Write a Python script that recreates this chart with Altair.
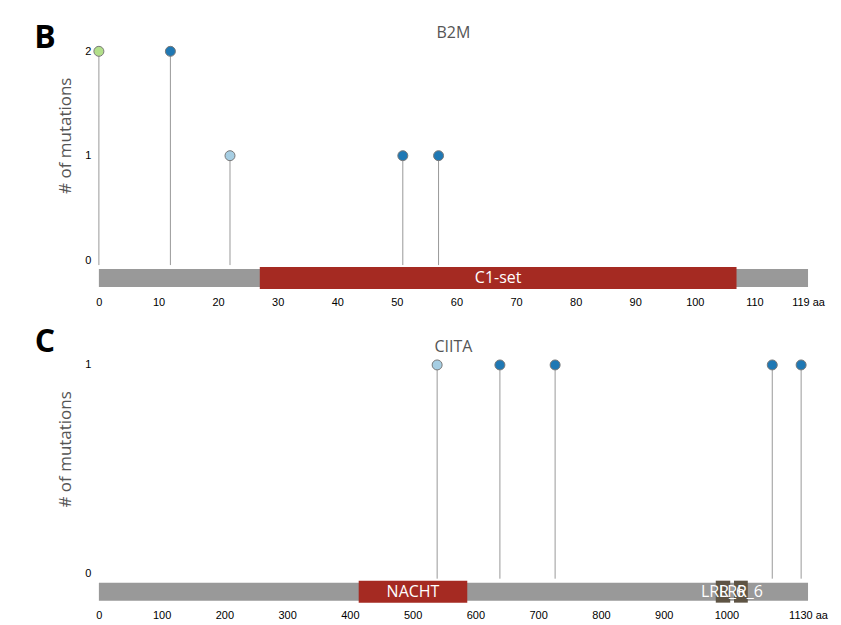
import altair as alt
import pandas as pd

# ---- B2M panel data ----
b2m_length = 119
b2m_pos = [0, 12, 22, 51, 57]
b2m_count = [2, 2, 1, 1, 1]
b2m_class = ["class 3", "class 1", "class 2", "class 1", "class 1"]
b2m_dom_names = ["C1-set"]
b2m_dom_start = [27]
b2m_dom_end = [107]
b2m_ticks = [0, 10, 20, 30, 40, 50, 60, 70, 80, 90, 100, 110, 119]

# ---- CIITA panel data ----
ciita_length = 1130
ciita_pos = [539, 639, 727, 1073, 1119]
ciita_count = [1, 1, 1, 1, 1]
ciita_class = ["class 2", "class 1", "class 1", "class 1", "class 1"]
ciita_dom_names = ["NACHT", "LRR_6", "LRR_6"]
ciita_dom_start = [414, 983, 1012]
ciita_dom_end = [587, 1006, 1034]
ciita_ticks = [0, 100, 200, 300, 400, 500, 600, 700, 800, 900, 1000, 1130]

class_names = ["class 1", "class 2", "class 3"]
class_colors = ["#1f78b4", "#a6cee3", "#b2df8a"]
dom_types = ["C1-set", "NACHT", "LRR_6"]
dom_colors = ["#a52a22", "#a52a22", "#5e5444"]

W = 710
H = 241


def panel(name, letter, letter_y, length, pos, cnt, cls, dnames, dstart, dend, ticks):
    ymax = max(cnt)
    muts = pd.DataFrame({"pos": pos, "cnt": cnt, "cls": cls})
    doms = pd.DataFrame({"name": dnames, "start": dstart, "end": dend})
    prot = pd.DataFrame({"start": [0], "end": [length]})
    let = pd.DataFrame({"t": [letter]})
    ttl = pd.DataFrame({"t": [name]})

    xscale = alt.Scale(domain=[0, length], nice=False, zero=False)
    last = ticks[-1]
    xaxis = alt.Axis(values=ticks, grid=False, domain=False, ticks=False, format="d",
                     labelPadding=4, labelFontSize=11, labelFont="Liberation Sans",
                     labelColor="black", title=None, labelFlush=False,
                     labelExpr=f"datum.value == {last} ? '{last} aa' : datum.label")
    yscale = alt.Scale(domain=[-ymax * 32 / 209, ymax], nice=False, zero=False)
    yaxis = alt.Axis(values=list(range(0, ymax + 1)), grid=False, domain=False, ticks=False,
                     labelPadding=8, labelFontSize=11, labelFont="Liberation Sans",
                     labelColor="black", title="# of mutations", titleFont="Open Sans",
                     titleFontSize=17, titleFontWeight="normal", titleColor="#555",
                     titleX=-33, titleY=84, titleAngle=-90, titleAlign="center",
                     titleBaseline="middle", format="d")

    bar = alt.Chart(prot).mark_rect(color="#999999").encode(
        x=alt.X("start:Q", scale=xscale, axis=xaxis),
        x2="end:Q",
        y=alt.value(218), y2=alt.value(236))
    dom = alt.Chart(doms).mark_rect().encode(
        x=alt.X("start:Q", scale=xscale, axis=xaxis),
        x2="end:Q",
        y=alt.value(216), y2=alt.value(238),
        color=alt.Color("name:N", scale=alt.Scale(domain=dom_types, range=dom_colors), legend=None))
    domtxt = alt.Chart(doms).transform_calculate(mid="(datum.start + datum.end) / 2").mark_text(
        color="white", font="Open Sans", fontSize=16, align="center", baseline="middle").encode(
        x=alt.X("mid:Q", scale=xscale, axis=xaxis),
        y=alt.value(227), text="name:N")
    stems = alt.Chart(muts).mark_rule(color="#999999", strokeWidth=1).encode(
        x=alt.X("pos:Q", scale=xscale, axis=xaxis),
        y=alt.Y("cnt:Q", scale=yscale, axis=yaxis),
        y2=alt.value(214))
    pts = alt.Chart(muts).mark_point(filled=True, size=100, stroke="#777777", strokeWidth=1,
                                     opacity=1).encode(
        x=alt.X("pos:Q", scale=xscale, axis=xaxis),
        y=alt.Y("cnt:Q", scale=yscale, axis=yaxis),
        fill=alt.Fill("cls:N", scale=alt.Scale(domain=class_names, range=class_colors), legend=None))
    lt = alt.Chart(let).mark_text(font="Open Sans", fontSize=32, fontWeight="bold",
                                  color="black", align="center", baseline="middle").encode(
        x=alt.value(-54), y=alt.value(letter_y), text="t:N")
    tt = alt.Chart(ttl).mark_text(font="Open Sans", fontSize=16, color="#555",
                                  align="center", baseline="middle").encode(
        x=alt.value(W / 2), y=alt.value(-18), text="t:N")

    return alt.layer(bar, dom, domtxt, stems, pts, lt, tt).properties(width=W, height=H)


top = panel("B2M", "B", -13, b2m_length, b2m_pos, b2m_count, b2m_class,
            b2m_dom_names, b2m_dom_start, b2m_dom_end, b2m_ticks)
bot = panel("CIITA", "C", -23, ciita_length, ciita_pos, ciita_count, ciita_class,
            ciita_dom_names, ciita_dom_start, ciita_dom_end, ciita_ticks)

chart = alt.vconcat(top, bot, spacing=19).resolve_scale(color="independent").properties(
    padding={"left": 26, "top": 14, "right": 5, "bottom": 5}
).configure_view(stroke=None)

chart.save("out.html", embed_options={"renderer": "svg", "actions": False})
